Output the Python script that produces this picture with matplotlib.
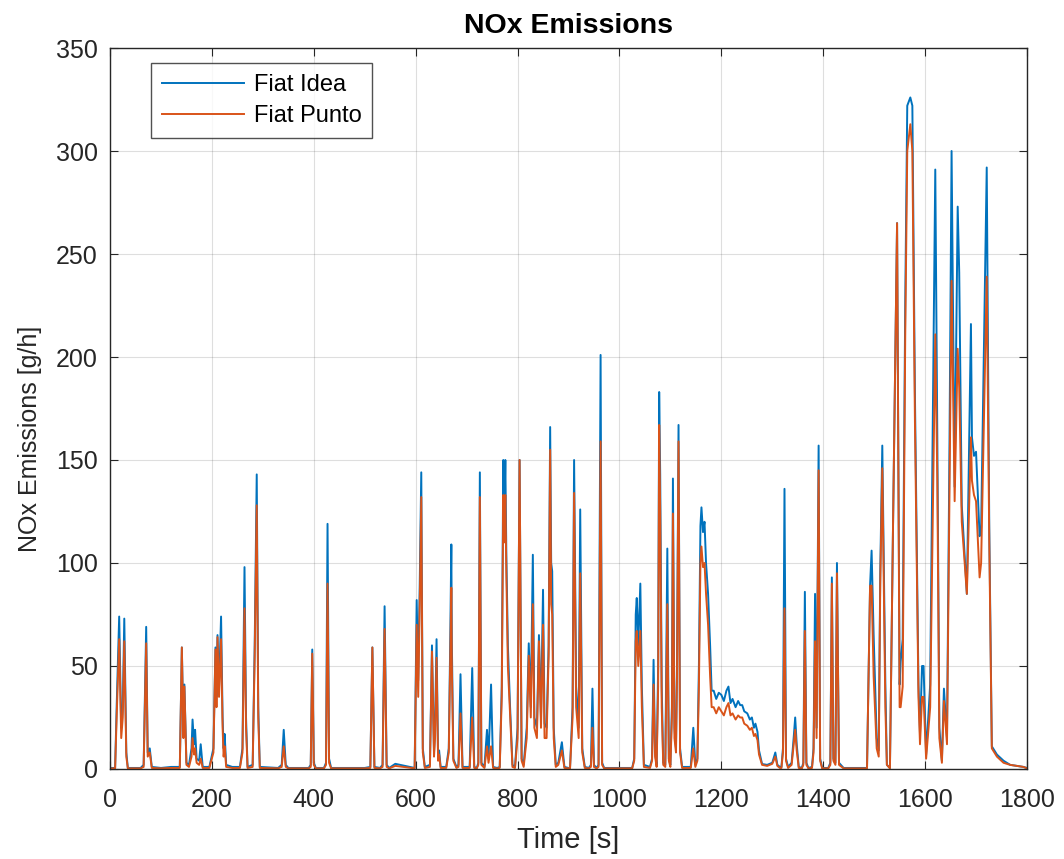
import matplotlib
matplotlib.use("Agg")
import matplotlib.pyplot as plt

plt.rcParams['font.family'] = ['Liberation Sans', 'DejaVu Sans']

time_s = [
    0, 10, 13, 18, 22, 25, 28, 32, 35, 60, 66, 71, 74, 78, 82, 100,
    120, 137, 141, 144, 146, 150, 155, 160, 162, 165, 167, 170, 175, 178, 182, 195, 203, 207, 209, 211, 214, 218, 221, 223, 225, 228, 240,
    255, 260, 264, 267, 270, 280, 284, 288, 291, 294, 330, 337, 341, 345, 350,
    390, 394, 397, 400, 404, 420, 424, 427, 430, 434, 500, 511, 515, 519, 530, 535, 539, 543, 548, 560,
    598, 602, 605, 608, 611, 614, 618, 628, 632, 636, 638, 641, 644, 646, 649, 660, 665, 668, 670, 671, 674, 680, 684, 688, 692, 706, 711, 715, 720, 723, 726, 729, 735, 740, 743, 748, 752, 760,
    765, 769, 772, 774, 776, 778, 781, 785, 790, 795, 800, 804, 808, 812, 818, 822, 826, 830, 833, 838, 842, 846, 850, 853, 857, 861, 864, 866, 868, 871, 875, 880, 887, 892, 900,
    903, 908, 911, 915, 920, 923, 927, 932, 940, 944, 947, 950, 955, 959, 963, 966, 970, 1000,
    1025, 1029, 1032, 1034, 1037, 1041, 1044, 1048, 1060, 1064, 1067, 1070, 1073, 1076, 1078, 1080, 1083, 1086, 1090, 1094, 1097, 1100, 1103, 1105, 1108, 1111, 1113, 1116, 1119, 1123, 1140, 1145, 1149, 1153, 1156, 1159, 1161, 1164, 1167, 1170, 1174, 1178, 1181, 1185,
    1190, 1195, 1200, 1205, 1210, 1214, 1218, 1222, 1228, 1233, 1237, 1241, 1245, 1251, 1256, 1260, 1264, 1267, 1271, 1274, 1280, 1290, 1300, 1306, 1310, 1315,
    1318, 1321, 1324, 1327, 1331, 1338, 1342, 1345, 1348, 1352, 1358, 1361, 1364, 1367, 1371, 1378, 1381, 1384, 1387, 1391, 1394, 1398, 1410, 1414, 1417, 1420, 1424, 1427, 1431, 1440, 1460,
    1486, 1492, 1495, 1499, 1505, 1509, 1512, 1516, 1522, 1525, 1531, 1537, 1545, 1550, 1552, 1556, 1561, 1565, 1571, 1575, 1580, 1587, 1590, 1594, 1597, 1602,
    1610, 1620, 1624, 1628, 1633, 1637, 1643, 1648, 1652, 1658, 1664, 1667, 1672, 1682, 1690, 1692, 1696, 1700, 1707, 1710, 1721, 1726, 1731, 1741, 1754, 1767, 1793, 1800,
]

fiat_idea = [
    0.5, 0.5, 30, 74, 20, 30, 73, 8, 0.5, 0.5, 2, 69, 8, 10, 1, 0.5,
    1, 1, 59, 20, 41, 3, 2, 10, 24, 12, 19, 5, 4, 12, 1, 1, 10, 59, 35, 65, 40, 74, 25, 10, 17, 2, 1,
    1, 10, 98, 25, 1, 2, 60, 143, 30, 1, 0.5, 2, 19, 2, 0.5,
    0.5, 2, 58, 3, 0.5, 0.5, 3, 119, 5, 0.5, 0.5, 1, 59, 1, 0.5, 2, 79, 2, 0.5, 2.5,
    0.5, 82, 43, 90, 144, 10, 1, 2, 60, 8, 20, 63, 5, 9, 1, 1, 10, 65, 109, 62, 5, 1, 2, 46, 1, 1, 49, 1, 0.5, 3, 144, 3, 1, 19, 5, 41, 1, 0.5,
    1, 40, 150, 120, 150, 104, 60, 32, 2, 1, 20, 150, 5, 2, 20, 61, 30, 104, 25, 20, 65, 25, 87, 22, 20, 60, 166, 100, 96, 20, 2, 3, 13, 1, 0.5,
    0.5, 30, 150, 40, 20, 126, 10, 1, 0.5, 2, 39, 2, 0.5, 2, 201, 3, 0.5, 0.5,
    0.5, 5, 75, 83, 60, 90, 40, 2, 1, 5, 53, 8, 2, 50, 183, 143, 40, 3, 2, 107, 5, 2, 30, 141, 20, 10, 50, 167, 10, 1, 1, 20, 2, 5, 50, 118, 127, 115, 120, 100, 85, 60, 38, 38,
    34, 37, 36, 33, 38, 40, 32, 34, 30, 33, 31, 31, 28, 27, 24, 25, 20, 22, 18, 9, 2.4, 2, 3, 8, 2, 1,
    1, 10, 136, 5, 1, 3, 15, 25, 12, 1, 0.5, 3, 86, 3, 0.5, 1, 10, 85, 20, 157, 5, 0.5, 0.5, 3, 93, 5, 3, 100, 3, 0.5, 0.5,
    0.5, 89, 106, 65, 15, 9, 96, 157, 41, 2, 0.5, 117, 265, 41, 52, 63, 226, 322, 326, 322, 183, 41, 17, 50, 50, 7,
    41, 291, 161, 20, 4, 39, 15, 161, 300, 137, 273, 241, 128, 85, 216, 161, 152, 154, 113, 117, 292, 117, 11, 7, 4, 2, 1, 0.5,
]

fiat_punto = [
    0.3, 0.3, 25, 63, 15, 25, 62, 6, 0.3, 0.3, 1, 61, 6, 8, 0.5, 0.3,
    0.5, 0.5, 59, 15, 40, 2, 1, 6, 15, 7, 10, 3, 2, 5, 0.5, 0.5, 8, 58, 30, 64, 35, 63, 20, 6, 11, 1, 0.5,
    0.5, 8, 78, 20, 0.5, 1, 55, 128, 25, 0.5, 0.3, 1, 11, 1, 0.3,
    0.3, 1, 56, 2, 0.3, 0.3, 2, 90, 3, 0.3, 0.3, 0.5, 59, 0.5, 0.3, 1, 68, 1, 0.3, 1.5,
    0.3, 70, 35, 80, 132, 8, 0.5, 1, 57, 6, 15, 54, 4, 7, 0.5, 0.5, 8, 55, 88, 50, 4, 0.5, 1, 27, 0.5, 0.5, 25, 0.5, 0.3, 2, 132, 2, 0.5, 11, 3, 11, 0.5, 0.3,
    0.5, 35, 133, 110, 133, 95, 50, 28, 1, 0.5, 15, 150, 4, 1, 15, 55, 25, 80, 20, 15, 62, 20, 70, 15, 15, 55, 155, 80, 75, 15, 1, 2, 9, 0.5, 0.3,
    0.3, 25, 134, 30, 15, 95, 8, 0.5, 0.3, 1, 20, 1, 0.3, 1, 159, 2, 0.3, 0.3,
    0.3, 4, 62, 67, 50, 67, 30, 1, 0.5, 4, 41, 6, 1, 40, 167, 125, 30, 2, 1, 80, 4, 1, 25, 124, 15, 8, 45, 159, 8, 0.5, 0.5, 10, 1, 4, 40, 100, 108, 98, 100, 85, 70, 45, 30, 30,
    27, 30, 28, 26, 30, 32, 26, 27, 24, 26, 25, 25, 22, 21, 19, 20, 16, 17, 14, 7, 2, 1.5, 2.5, 6, 1.5, 0.5,
    0.5, 8, 78, 4, 0.5, 2, 12, 19, 9, 0.5, 0.3, 2, 67, 2, 0.3, 0.5, 8, 62, 15, 145, 4, 0.3, 0.3, 2, 90, 4, 2, 95, 2, 0.3, 0.3,
    0.3, 89, 89, 45, 10, 6, 90, 146, 30, 2, 0.3, 117, 265, 30, 30, 40, 210, 300, 313, 300, 170, 35, 12, 35, 35, 5,
    30, 211, 140, 15, 3, 33, 12, 140, 237, 130, 204, 185, 120, 85, 161, 140, 133, 130, 93, 100, 239, 110, 10, 6, 3, 2, 1, 0.3,
]

fig = plt.figure(figsize=(10.64, 8.59), dpi=100)
ax = fig.add_axes([0.1034, 0.1048, 0.8618, 0.8393])

ax.plot(time_s, fiat_idea, color='#0072BD', lw=1.4, label='Fiat Idea')
ax.plot(time_s, fiat_punto, color='#D95319', lw=1.4, label='Fiat Punto')

ax.set_xlim(0, 1800)
ax.set_ylim(0, 350)
ax.set_xticks(range(0, 1801, 200))
ax.set_yticks(range(0, 351, 50))
ax.grid(True, color='#262626', alpha=0.15, lw=0.8)
ax.tick_params(direction='in', top=True, right=True, labelsize=18, colors='#262626', length=6)
ax.tick_params(axis='y', pad=9)
ax.tick_params(axis='x', pad=14)
for s in ax.spines.values():
    s.set_color('#262626')
    s.set_linewidth(1.0)

ax.set_xlabel('Time [s]', fontsize=21, color='#262626', labelpad=10)
ax.set_ylabel('NOx Emissions [g/h]', fontsize=18, color='#262626')
ax.yaxis.set_label_coords(-0.074, 0.458)
ax.set_title('NOx Emissions', fontsize=20.5, fontweight='bold', color='#000000', pad=11)

leg = ax.legend(loc='upper left', bbox_to_anchor=(0.0447, 0.979), borderaxespad=0,
                fontsize=17, frameon=True, fancybox=False, edgecolor='#262626',
                handlelength=3.5, borderpad=0.45, labelspacing=0.4, handletextpad=0.4)
leg.get_frame().set_linewidth(1.0)

fig.savefig('out.png', dpi=100, facecolor='white')
